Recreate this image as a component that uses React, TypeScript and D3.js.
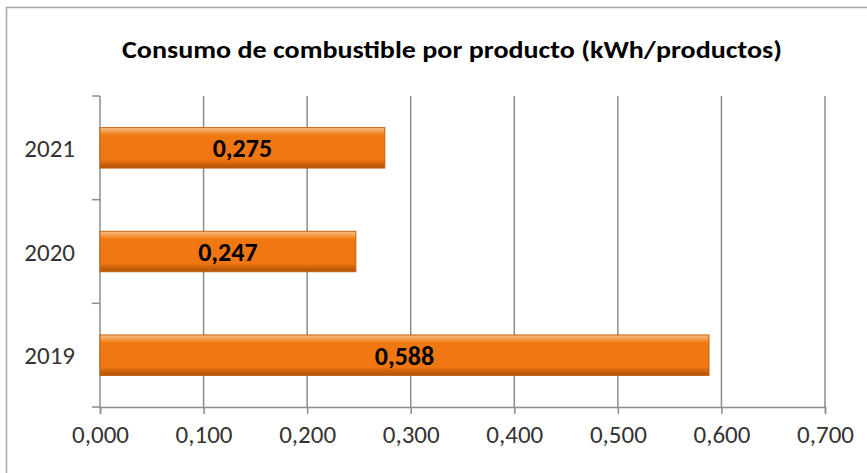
import React, { useEffect, useRef } from 'react';
import * as d3 from 'd3';

const years = ['2021', '2020', '2019'];
const values = [0.275, 0.247, 0.588];
const valueLabels = ['0,275', '0,247', '0,588'];
const xTicks = [0, 0.1, 0.2, 0.3, 0.4, 0.5, 0.6, 0.7];
const title = 'Consumo de combustible por producto (kWh/productos)';

const App: React.FC = () => {
  const ref = useRef<SVGSVGElement | null>(null);

  useEffect(() => {
    const W = 867;
    const H = 473;
    const margin = { top: 96, right: 42, bottom: 66, left: 100 };
    const width = W - margin.left - margin.right;
    const height = H - margin.top - margin.bottom;
    const font = 'Carlito, Calibri, Lato, "Open Sans", sans-serif';

    const root = d3.select(ref.current);
    root.selectAll('*').remove();
    root.attr('width', W).attr('height', H);

    const defs = root.append('defs');
    const grad = defs
      .append('linearGradient')
      .attr('id', 'barGrad')
      .attr('x1', 0)
      .attr('y1', 0)
      .attr('x2', 0)
      .attr('y2', 1);
    grad.append('stop').attr('offset', '0%').attr('stop-color', '#fbc08d');
    grad.append('stop').attr('offset', '10%').attr('stop-color', '#f59a45');
    grad.append('stop').attr('offset', '20%').attr('stop-color', '#f07813');
    grad.append('stop').attr('offset', '80%').attr('stop-color', '#ef7612');
    grad.append('stop').attr('offset', '90%').attr('stop-color', '#cc600c');
    grad.append('stop').attr('offset', '100%').attr('stop-color', '#b0530b');

    root
      .append('rect')
      .attr('x', 6.5)
      .attr('y', 7.5)
      .attr('width', W + 10)
      .attr('height', H + 10)
      .attr('fill', '#ffffff')
      .attr('stroke', '#a6a6a6')
      .attr('stroke-width', 1.5);

    root
      .append('text')
      .attr('x', 452)
      .attr('y', 58)
      .attr('text-anchor', 'middle')
      .attr('font-family', font)
      .attr('font-weight', 'bold')
      .attr('font-size', 24.5)
      .attr('fill', '#000')
      .attr('textLength', 660)
      .attr('lengthAdjust', 'spacingAndGlyphs')
      .text(title);

    const g = root.append('g').attr('transform', `translate(${margin.left},${margin.top})`);

    const x = d3.scaleLinear().domain([0, 0.7]).range([0, width]);
    const y = d3.scaleBand<string>().domain(years).range([0, height]).paddingInner(0.61).paddingOuter(0.305);

    // gridlines
    g.selectAll('line.grid')
      .data(xTicks.slice(1))
      .enter()
      .append('line')
      .attr('x1', (d) => x(d))
      .attr('x2', (d) => x(d))
      .attr('y1', 0)
      .attr('y2', height)
      .attr('stroke', '#8c8c8c')
      .attr('stroke-width', 1.5);

    // x axis
    const xAxis = d3
      .axisBottom(x)
      .tickValues(xTicks)
      .tickSize(7)
      .tickFormat((d) => d3.format('.3f')(d as number).replace('.', ','));
    const xg = g.append('g').attr('transform', `translate(0,${height})`).call(xAxis);
    xg.select('.domain').attr('stroke', '#8c8c8c').attr('stroke-width', 1.5);
    xg.selectAll('.tick line').attr('stroke', '#8c8c8c').attr('stroke-width', 1.5);
    xg.selectAll('.tick text')
      .attr('font-family', font)
      .attr('font-size', 25)
      .attr('fill', '#333')
      .attr('dy', '0')
      .attr('y', 36);

    // y axis: ticks at band boundaries
    const boundaries = d3.range(years.length + 1).map((i) => (height / years.length) * i);
    g.append('line')
      .attr('x1', 0)
      .attr('x2', 0)
      .attr('y1', 0)
      .attr('y2', height)
      .attr('stroke', '#8c8c8c')
      .attr('stroke-width', 1.5);
    g.selectAll('line.ytick')
      .data(boundaries)
      .enter()
      .append('line')
      .attr('x1', -8)
      .attr('x2', 0)
      .attr('y1', (d) => d)
      .attr('y2', (d) => d)
      .attr('stroke', '#8c8c8c')
      .attr('stroke-width', 1.5);
    g.selectAll('text.ylab')
      .data(years)
      .enter()
      .append('text')
      .attr('x', -25)
      .attr('y', (d) => y(d)! + y.bandwidth() / 2)
      .attr('dy', '0.36em')
      .attr('text-anchor', 'end')
      .attr('font-family', font)
      .attr('font-size', 25)
      .attr('fill', '#333')
      .text((d) => d);

    // bars
    const bars = g.selectAll('g.bar').data(years).enter().append('g');
    bars
      .append('rect')
      .attr('x', 0)
      .attr('y', (d) => y(d)!)
      .attr('width', (d, i) => x(values[i]))
      .attr('height', y.bandwidth())
      .attr('fill', 'url(#barGrad)')
      .attr('stroke', '#c2600e')
      .attr('stroke-width', 1);
    bars
      .append('text')
      .attr('x', (d, i) => x(values[i]) / 2)
      .attr('y', (d) => y(d)! + y.bandwidth() / 2)
      .attr('dy', '0.36em')
      .attr('text-anchor', 'middle')
      .attr('font-family', font)
      .attr('font-weight', 'bold')
      .attr('font-size', 26)
      .attr('fill', '#000')
      .text((d, i) => valueLabels[i]);
  }, []);

  return <svg ref={ref} style={{ position: 'fixed', top: 0, left: 0 }} />;
};

export default App;
